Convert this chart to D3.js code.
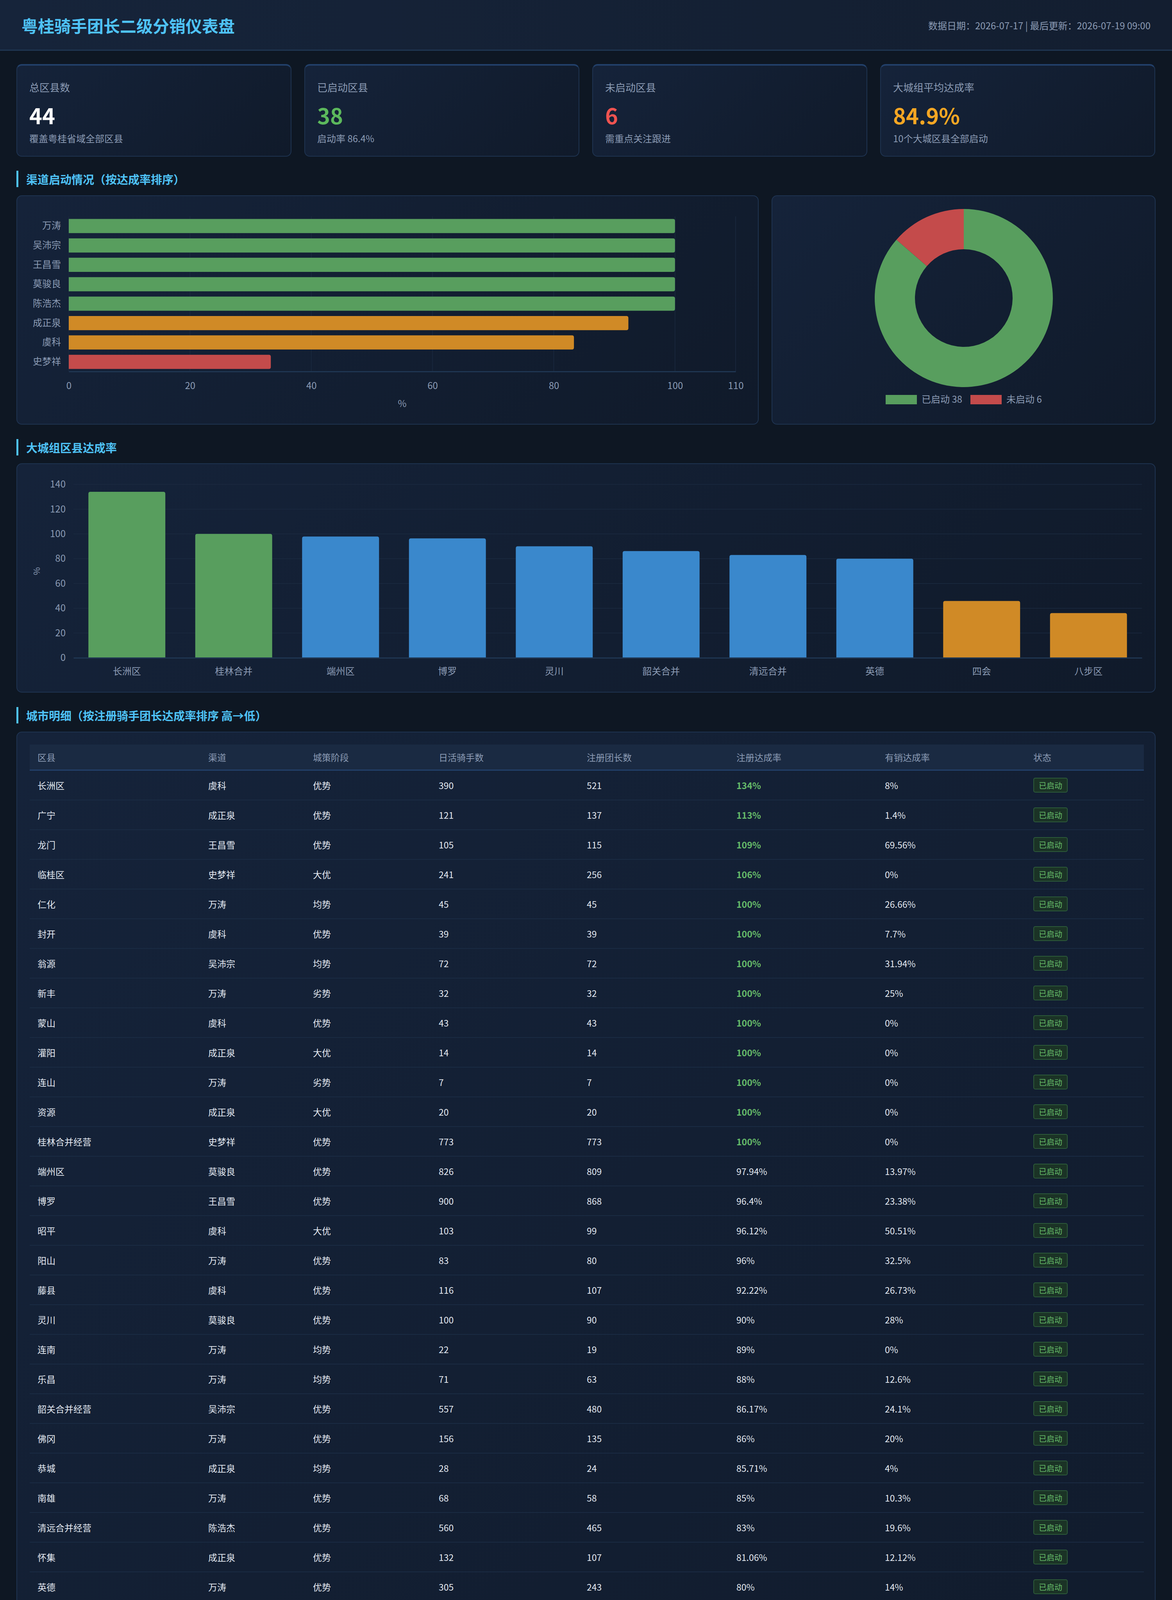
<!DOCTYPE html>
<html lang="zh-CN">
<head>
<meta charset="utf-8">
<title>粤桂骑手团长二级分销仪表盘</title>
<script src="https://cdn.jsdelivr.net/npm/d3@7/dist/d3.min.js"></script>
<style>
  html, body { margin: 0; padding: 0; }
  body {
    width: 3000px; height: 5504px; position: relative; overflow: hidden;
    background: #0e1723;
    font-family: "Noto Sans CJK SC", "Noto Sans", sans-serif;
    color: #e3e9f1;
  }
  .header {
    position: absolute; left: 0; top: 0; width: 3000px; height: 130px;
    background: linear-gradient(90deg, #16243a, #131e30);
    border-bottom: 3px solid #1f3652;
    box-sizing: border-box;
  }
  .header h1 {
    position: absolute; left: 55px; top: 0; margin: 0; line-height: 130px;
    font-size: 42px; font-weight: 700; color: #4fc3f7;
  }
  .header .meta {
    position: absolute; right: 55px; top: 0; line-height: 130px;
    font-size: 24px; color: #8b9bb4;
  }
  .card {
    position: absolute; box-sizing: border-box;
    background: linear-gradient(135deg, #15233a, #101a2a);
    border: 2px solid #1e3350; border-radius: 14px;
  }
  .kpi { top: 164px; height: 237px; width: 704px; border-top: 4px solid #22406a; }
  .kpi .label { position: absolute; left: 31px; top: 36px; font-size: 26px; color: #8b9bb4; }
  .kpi .value { position: absolute; left: 31px; top: 86px; font-size: 56px; font-weight: 700; line-height: 80px; }
  .kpi .note { position: absolute; left: 31px; top: 168px; font-size: 24px; color: #8b9bb4; }
  .section {
    position: absolute; left: 42px; height: 42px; line-height: 42px;
    border-left: 5px solid #4fc3f7; padding-left: 20px;
    font-size: 29px; font-weight: 700; color: #4fc3f7;
  }
  .footer {
    position: absolute; left: 0; top: 5420px; width: 3000px; text-align: center;
    font-size: 22px; color: #566781;
  }
  table { position: absolute; left: 32px; top: 31px; width: 2852px; border-collapse: collapse; table-layout: fixed; }
  th {
    height: 64px; text-align: left; padding: 0 0 0 20px; font-weight: 400;
    font-size: 23px; color: #8b9bb4; background: #1a2a42;
    border-bottom: 3px solid #22406a;
  }
  td {
    height: 74px; padding: 0 0 0 20px; font-size: 23px; color: #e3e9f1;
    border-bottom: 2px solid #1a2b43;
  }
  .badge {
    display: inline-block; padding: 0 12px; height: 38px; line-height: 35px;
    font-size: 20px; border-radius: 5px; box-sizing: border-box;
  }
  .badge.on { color: #66bb6a; background: #1b3326; border: 2px solid #2c5a39; }
  .badge.off { color: #ef5350; background: #3a1c25; border: 2px solid #6e2a36; }
  .axis text { font-family: "Noto Sans CJK SC", "Noto Sans", sans-serif; }
</style>
</head>
<body>

<div class="header">
  <h1>粤桂骑手团长二级分销仪表盘</h1>
  <div class="meta">数据日期：2026-07-17 | 最后更新：2026-07-19 09:00</div>
</div>

<div id="kpis"></div>

<div class="section" style="top:437px">渠道启动情况（按达成率排序）</div>
<div class="card" id="barCard" style="left:42px; top:500px; width:1900px; height:587px"></div>
<div class="card" id="donutCard" style="left:1975px; top:500px; width:983px; height:587px"></div>

<div class="section" style="top:1124px">大城组区县达成率</div>
<div class="card" id="colCard" style="left:42px; top:1186px; width:2916px; height:587px"></div>

<div class="section" style="top:1810px">城市明细（按注册骑手团长达成率排序 高→低）</div>
<div class="card" id="tableCard" style="left:42px; top:1873px; width:2916px; height:3477px"></div>

<div class="footer">粤桂骑手团长二级分销仪表盘 | 数据来源：FBI报表1896509 + 粤桂用增专项群汇报 | 更新：2026-07-19 09:00</div>

<script>
// ---------- data ----------
const kpiLabels = ["总区县数", "已启动区县", "未启动区县", "大城组平均达成率"];
const kpiValues = ["44", "38", "6", "84.9%"];
const kpiNotes = ["覆盖粤桂省域全部区县", "启动率 86.4%", "需重点关注跟进", "10个大城区县全部启动"];

const channelNames = ["万涛", "吴沛宗", "王昌雪", "莫骏良", "陈浩杰", "成正泉", "虞科", "史梦祥"];
const channelRates = [100, 100, 100, 100, 100, 92.31, 83.33, 33.33];

const statusLabels = ["已启动", "未启动"];
const statusCounts = [38, 6];

const bigCities = ["长洲区", "桂林合并", "端州区", "博罗", "灵川", "韶关合并", "清远合并", "英德", "四会", "八步区"];
const bigCityRates = [134, 100, 97.94, 96.4, 90, 86.17, 83, 80, 45.89, 36.12];

const tableHeaders = ["区县", "渠道", "城策阶段", "日活骑手数", "注册团长数", "注册达成率", "有销达成率", "状态"];
const districts = ["长洲区", "广宁", "龙门", "临桂区", "仁化", "封开", "翁源", "新丰", "蒙山", "灌阳", "连山", "资源",
  "桂林合并经营", "端州区", "博罗", "昭平", "阳山", "藤县", "灵川", "连南", "乐昌", "韶关合并经营", "佛冈", "恭城",
  "南雄", "清远合并经营", "怀集", "英德", "始兴", "连州", "永福", "阳朔", "荔浦", "乳源", "富川", "四会", "八步区",
  "钟山", "雁山区", "全州", "兴安", "苍梧", "龙胜", "平乐"];
const channels = ["虞科", "成正泉", "王昌雪", "史梦祥", "万涛", "虞科", "吴沛宗", "万涛", "虞科", "成正泉", "万涛", "成正泉",
  "史梦祥", "莫骏良", "王昌雪", "虞科", "万涛", "虞科", "莫骏良", "万涛", "万涛", "吴沛宗", "万涛", "成正泉",
  "万涛", "陈浩杰", "成正泉", "万涛", "万涛", "万涛", "成正泉", "成正泉", "成正泉", "万涛", "成正泉", "成正泉", "成正泉",
  "成正泉", "史梦祥", "史梦祥", "史梦祥", "虞科", "史梦祥", "成正泉"];
const stages = ["优势", "优势", "优势", "大优", "均势", "优势", "均势", "劣势", "优势", "大优", "劣势", "大优",
  "优势", "优势", "优势", "大优", "优势", "优势", "优势", "均势", "均势", "优势", "优势", "均势",
  "优势", "优势", "优势", "优势", "劣势", "均势", "劣势", "均势", "优势", "优势", "优势", "优势", "优势",
  "优势", "优势", "劣势", "均势", "劣势", "劣势", "均势"];
const dailyRiders = [390, 121, 105, 241, 45, 39, 72, 32, 43, 14, 7, 20, 773, 826, 900, 103, 83, 116, 100, 22, 71, 557, 156, 28,
  68, 560, 132, 305, 29, 114, 17, 101, 60, 52, 65, 390, 310, 100, null, null, null, null, null, null];
const leaderCounts = [521, 137, 115, 256, 45, 39, 72, 32, 43, 14, 7, 20, 773, 809, 868, 99, 80, 107, 90, 19, 63, 480, 135, 24,
  58, 465, 107, 243, 23, 82, 11, 101, 30, 25, 30, 179, 112, 10, null, null, null, null, null, null];
const regRates = [134, 113, 109, 106, 100, 100, 100, 100, 100, 100, 100, 100, 100, 97.94, 96.4, 96.12, 96, 92.22, 90, 89, 88,
  86.17, 86, 85.71, 85, 83, 81.06, 80, 79.8, 72, 64.71, 50.64, 50, 48, 46, 45.89, 36.12, 10, null, null, null, null, null, null];
const salesRates = [8, 1.4, 69.56, 0, 26.66, 7.7, 31.94, 25, 0, 0, 0, 0, 0, 13.97, 23.38, 50.51, 32.5, 26.73, 28, 0, 12.6,
  24.1, 20, 4, 10.3, 19.6, 12.12, 14, 5, 25, 0, 6.18, 0, 5, 6, 37, 10, 0, null, null, null, null, null, null];

const GREEN = "#589e5e", ORANGE = "#d08a26", RED = "#c44b4b", BLUE = "#3a88cc";
const AXIS_TEXT = "#8b9bb4", GRID = "#1b2a40";

// ---------- KPI cards ----------
const kpiColors = ["#ffffff", "#5cb85c", "#ef5350", "#f5a623"];
d3.select("#kpis").selectAll("div.kpi")
  .data(kpiLabels)
  .join("div")
  .attr("class", "card kpi")
  .style("left", (d, i) => (42 + i * 737) + "px")
  .each(function(d, i) {
    const c = d3.select(this);
    c.append("div").attr("class", "label").text(d);
    c.append("div").attr("class", "value").style("color", kpiColors[i]).text(kpiValues[i]);
    c.append("div").attr("class", "note").text(kpiNotes[i]);
  });

// ---------- channel bar chart ----------
function barChart() {
  const W = 1896, H = 583;
  const m = {left: 132, right: 57, top: 52, bottom: 134};
  const svg = d3.select("#barCard").append("svg").attr("width", W).attr("height", H);
  const x = d3.scaleLinear().domain([0, 110]).range([m.left, W - m.right]);
  const y = d3.scaleBand().domain(channelNames).range([m.top, H - m.bottom]).paddingInner(0.27).paddingOuter(0.13);

  // vertical grid
  svg.append("g").selectAll("line").data([0, 20, 40, 60, 80, 100, 110]).join("line")
    .attr("x1", d => x(d)).attr("x2", d => x(d))
    .attr("y1", m.top).attr("y2", H - m.bottom)
    .attr("stroke", GRID).attr("stroke-width", 1.5);

  // bars
  svg.append("g").selectAll("path").data(channelNames).join("path")
    .attr("d", (d, i) => {
      const x0 = x(0), x1 = x(channelRates[i]), y0 = y(d), h = y.bandwidth(), r = 5;
      return `M${x0},${y0}H${x1 - r}Q${x1},${y0} ${x1},${y0 + r}V${y0 + h - r}Q${x1},${y0 + h} ${x1 - r},${y0 + h}H${x0}Z`;
    })
    .attr("fill", (d, i) => channelRates[i] >= 100 ? GREEN : channelRates[i] >= 60 ? ORANGE : RED);

  // x axis
  const xa = svg.append("g").attr("class", "axis").attr("transform", `translate(0,${H - m.bottom})`)
    .call(d3.axisBottom(x).tickValues([0, 20, 40, 60, 80, 100, 110]).tickSize(0).tickPadding(28));
  xa.select(".domain").attr("stroke", "#1f3652").attr("stroke-width", 3);
  xa.selectAll("text").attr("fill", AXIS_TEXT).style("font-size", "24px");

  // y axis
  const ya = svg.append("g").attr("class", "axis").attr("transform", `translate(${m.left},0)`)
    .call(d3.axisLeft(y).tickSize(0).tickPadding(20));
  ya.select(".domain").remove();
  ya.selectAll("text").attr("fill", AXIS_TEXT).style("font-size", "24px");

  svg.append("text").attr("x", (x(0) + x(110)) / 2).attr("y", 540)
    .attr("text-anchor", "middle").attr("fill", AXIS_TEXT).style("font-size", "24px").text("%");
}
barChart();

// ---------- donut ----------
function donut() {
  const W = 979, H = 583;
  const svg = d3.select("#donutCard").append("svg").attr("width", W).attr("height", H);
  const g = svg.append("g").attr("transform", "translate(490,261)");
  const pie = d3.pie().sort(null).value(d => d)(statusCounts);
  const arc = d3.arc().innerRadius(125).outerRadius(228);
  const colors = [GREEN, RED];
  g.selectAll("path").data(pie).join("path").attr("d", arc).attr("fill", (d, i) => colors[i]);

  const legend = svg.append("g").attr("transform", "translate(290,509)");
  const offsets = [0, 217];
  statusLabels.forEach((lab, i) => {
    const lg = legend.append("g").attr("transform", `translate(${offsets[i]},0)`);
    lg.append("rect").attr("width", 80).attr("height", 24).attr("fill", colors[i]);
    lg.append("text").attr("x", 92).attr("y", 12).attr("dy", "0.35em")
      .attr("fill", AXIS_TEXT).style("font-size", "24px").text(lab + " " + statusCounts[i]);
  });
}
donut();

// ---------- big city column chart ----------
function columnChart() {
  const W = 2912, H = 583;
  const m = {left: 144, right: 33, top: 52, bottom: 87};
  const svg = d3.select("#colCard").append("svg").attr("width", W).attr("height", H);
  const x = d3.scaleBand().domain(bigCities).range([m.left, W - m.right]).paddingInner(0.28).paddingOuter(0.14);
  const y = d3.scaleLinear().domain([0, 140]).range([H - m.bottom, m.top]);

  svg.append("g").selectAll("line").data(d3.range(20, 141, 20)).join("line")
    .attr("x1", m.left).attr("x2", W - m.right)
    .attr("y1", d => y(d)).attr("y2", d => y(d))
    .attr("stroke", GRID).attr("stroke-width", 1.5);

  svg.append("g").selectAll("path").data(bigCities).join("path")
    .attr("d", (d, i) => {
      const x0 = x(d), w = x.bandwidth(), y0 = y(bigCityRates[i]), yb = y(0), r = 5;
      return `M${x0},${yb}V${y0 + r}Q${x0},${y0} ${x0 + r},${y0}H${x0 + w - r}Q${x0 + w},${y0} ${x0 + w},${y0 + r}V${yb}Z`;
    })
    .attr("fill", (d, i) => bigCityRates[i] >= 100 ? GREEN : bigCityRates[i] >= 60 ? BLUE : ORANGE);

  const xa = svg.append("g").attr("class", "axis").attr("transform", `translate(0,${y(0)})`)
    .call(d3.axisBottom(x).tickSize(0).tickPadding(26));
  xa.select(".domain").attr("stroke", "#1f3652").attr("stroke-width", 3);
  xa.selectAll("text").attr("fill", AXIS_TEXT).style("font-size", "24px");

  const ya = svg.append("g").attr("class", "axis").attr("transform", `translate(${m.left},0)`)
    .call(d3.axisLeft(y).tickValues(d3.range(0, 141, 20)).tickSize(0).tickPadding(20));
  ya.select(".domain").remove();
  ya.selectAll("text").attr("fill", AXIS_TEXT).style("font-size", "24px");

  svg.append("text").attr("transform", `translate(58,${(y(0) + y(140)) / 2}) rotate(-90)`)
    .attr("text-anchor", "middle").attr("fill", AXIS_TEXT).style("font-size", "22px").text("%");
}
columnChart();

// ---------- detail table ----------
function detailTable() {
  const widths = [437, 268, 322, 379, 383, 380, 380, 303];
  const table = d3.select("#tableCard").append("table");
  table.append("colgroup").selectAll("col").data(widths).join("col").style("width", d => d + "px");
  table.append("thead").append("tr").selectAll("th").data(tableHeaders).join("th").text(d => d);

  const rows = table.append("tbody").selectAll("tr").data(districts).join("tr");
  const fmtPct = v => v == null ? "-" : v + "%";
  const fmtNum = v => v == null ? "-" : String(v);
  rows.each(function(d, i) {
    const tr = d3.select(this);
    tr.append("td").text(d);
    tr.append("td").text(channels[i]);
    tr.append("td").text(stages[i]);
    tr.append("td").text(fmtNum(dailyRiders[i]));
    tr.append("td").text(fmtNum(leaderCounts[i]));
    const r = regRates[i];
    tr.append("td").text(fmtPct(r))
      .style("color", r == null ? null : r >= 100 ? "#66bb6a" : r < 20 ? "#ef5350" : null)
      .style("font-weight", r != null && (r >= 100 || r < 20) ? 700 : null);
    tr.append("td").text(fmtPct(salesRates[i]));
    const on = dailyRiders[i] != null;
    tr.append("td").append("span").attr("class", "badge " + (on ? "on" : "off")).text(on ? "已启动" : "未启动");
  });
}
detailTable();
</script>
</body>
</html>
